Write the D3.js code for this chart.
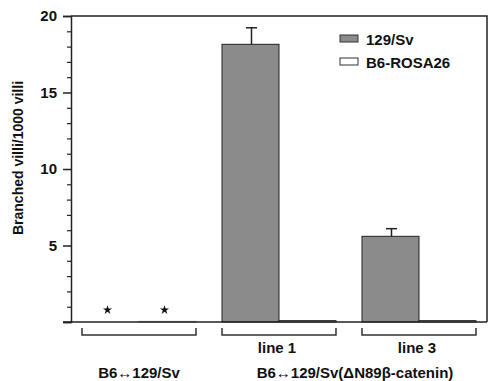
<html>
<title>Branched villi chart</title>
<script src="https://d3js.org/d3.v7.min.js"></script>
<style>
body { margin: 0; background: #fff; }
text { font-family: "Liberation Sans", Arial, sans-serif; font-weight: bold; fill: #111; }
</style>
<body>
<svg height="381" width="490"></svg>

<script>

var svg = d3.select("svg");

// data
var groups = ["g1", "line1", "line3"];
var groupLabels = ["", "line 1", "line 3"];
var series = ["129/Sv", "B6-ROSA26"];
var values129 = [0, 18.15, 5.6];
var errors129 = [0, 1.08, 0.5];
var valuesRosa = [0.04, 0.09, 0.09];
var starred = [true, false, false];
var yMajor = [0, 5, 10, 15, 20];
var yMinor = [1, 2, 3, 4, 6, 7, 8, 9, 11, 12, 13, 14, 16, 17, 18, 19];

// plot box (note: "top" is reserved on window, so prefix these)
var pLeft = 71, pRight = 487, pTop = 16, pBottom = 322;

var x = d3.scaleBand().domain(groups).range([pLeft, pRight])
	.paddingInner(0.1857).paddingOuter(0.0786);
var xSub = d3.scaleBand().domain(series).range([0, x.bandwidth()]);
var y = d3.scaleLinear().domain([0, 20]).range([pBottom, pTop]);

var fills = { "129/Sv": "#8b8b8b", "B6-ROSA26": "#ffffff" };

// bars
var rows = [];
groups.forEach(function (g, i) {
	rows.push({ g: g, s: "129/Sv", v: values129[i], e: errors129[i], i: i });
	rows.push({ g: g, s: "B6-ROSA26", v: valuesRosa[i], e: 0, i: i });
});

svg.selectAll("rect.bar").data(rows).enter().append("rect")
	.attr("class", "bar")
	.attr("x", function (d) { return x(d.g) + xSub(d.s); })
	.attr("width", xSub.bandwidth())
	.attr("y", function (d) { return y(d.v); })
	.attr("height", function (d) { return y(0) - y(d.v); })
	.style("fill", function (d) { return fills[d.s]; })
	.style("stroke", function (d) { return d.i == 0 ? "#999" : "#222"; })
	.style("stroke-width", 1);

// error bars (upper only)
var errs = rows.filter(function (d) { return d.e > 0; });
var cx = function (d) { return x(d.g) + xSub(d.s) + xSub.bandwidth() / 2 + 1; };
svg.selectAll("line.err").data(errs).enter().append("line")
	.attr("x1", cx).attr("x2", cx)
	.attr("y1", function (d) { return y(d.v); })
	.attr("y2", function (d) { return y(d.v + d.e); })
	.style("stroke", "#222").style("stroke-width", 1.5);
svg.selectAll("line.cap").data(errs).enter().append("line")
	.attr("x1", function (d) { return cx(d) - 5.5; })
	.attr("x2", function (d) { return cx(d) + 5.5; })
	.attr("y1", function (d) { return y(d.v + d.e); })
	.attr("y2", function (d) { return y(d.v + d.e); })
	.style("stroke", "#222").style("stroke-width", 1.5);

// stars for zero values
var stars = [];
groups.forEach(function (g, i) {
	if (starred[i]) { series.forEach(function (s) { stars.push({ g: g, s: s }); }); }
});
svg.selectAll("path.star").data(stars).enter().append("path")
	.attr("d", d3.symbol(d3.symbolStar).size(26))
	.attr("transform", function (d) {
		return "translate(" + (x(d.g) + xSub(d.s) + xSub.bandwidth() / 2 - 3) + "," + (y(0) - 12) + ")";
	})
	.style("fill", "#111");

// frame (top and right)
svg.append("path")
	.attr("d", "M" + pLeft + "," + pTop + "H" + pRight + "V" + pBottom)
	.style("fill", "none").style("stroke", "#222").style("stroke-width", 1.5);

// x baseline
svg.append("line")
	.attr("x1", pLeft - 8).attr("x2", pRight)
	.attr("y1", y(0)).attr("y2", y(0))
	.style("stroke", "#222").style("stroke-width", 1.5);

// y axis
var yAxis = svg.append("g").attr("transform", "translate(" + pLeft + ",0)")
	.call(d3.axisLeft(y).tickValues(yMajor).tickSize(8).tickPadding(6)
		.tickFormat(function (d) { return d == 0 ? "" : d; }));
yAxis.select(".domain").style("stroke", "#222").style("stroke-width", 1.5);
yAxis.selectAll(".tick line").style("stroke", "#222").style("stroke-width", 1.5);
yAxis.selectAll("text").style("font-size", "15px").style("font-family", null).attr("fill", "#111");

var yMin = svg.append("g").attr("transform", "translate(" + pLeft + ",0)")
	.call(d3.axisLeft(y).tickValues(yMinor).tickSize(4).tickFormat(""));
yMin.select(".domain").remove();
yMin.selectAll(".tick line").style("stroke", "#222").style("stroke-width", 1.2);

svg.append("text")
	.attr("transform", "translate(23," + 158 + ") rotate(-90)")
	.attr("text-anchor", "middle")
	.style("font-size", "14px")
	.text("Branched villi/1000 villi");

// brackets under groups
svg.selectAll("path.bracket").data(groups).enter().append("path")
	.attr("d", function (g) {
		var a = x(g), b = x(g) + x.bandwidth();
		return "M" + a + "," + (pBottom + 6) + "V" + (pBottom + 13) + "H" + b + "V" + (pBottom + 6);
	})
	.style("fill", "none").style("stroke", "#333").style("stroke-width", 1.5);

svg.selectAll("text.sub").data(groups).enter().append("text")
	.attr("x", function (g) { return x(g) + x.bandwidth() / 2 - 2; })
	.attr("y", 353)
	.attr("text-anchor", "middle")
	.style("font-size", "15px")
	.text(function (g, i) { return groupLabels[i]; });

svg.append("text")
	.attr("x", x("g1") + x.bandwidth() / 2)
	.attr("y", 378)
	.attr("text-anchor", "middle")
	.style("font-size", "15px")
	.text("B6\u2194129/Sv");

svg.append("text")
	.attr("x", (x("line1") + x("line3") + x.bandwidth()) / 2 + 6)
	.attr("y", 378)
	.attr("text-anchor", "middle")
	.style("font-size", "15px")
	.text("B6\u2194129/Sv(\u0394N89\u03b2-catenin)");

// legend
var legend = svg.selectAll("g.legend").data(series).enter().append("g")
	.attr("transform", function (d, i) { return "translate(340," + (35 + i * 23) + ")"; });
legend.append("rect")
	.attr("width", 18).attr("height", 7)
	.style("fill", function (d) { return fills[d]; })
	.style("stroke", "#333").style("stroke-width", 1);
legend.append("text")
	.attr("x", 26).attr("y", 9.5)
	.style("font-size", "15px")
	.text(function (d) { return d; });

</script>
</body>
</html>
